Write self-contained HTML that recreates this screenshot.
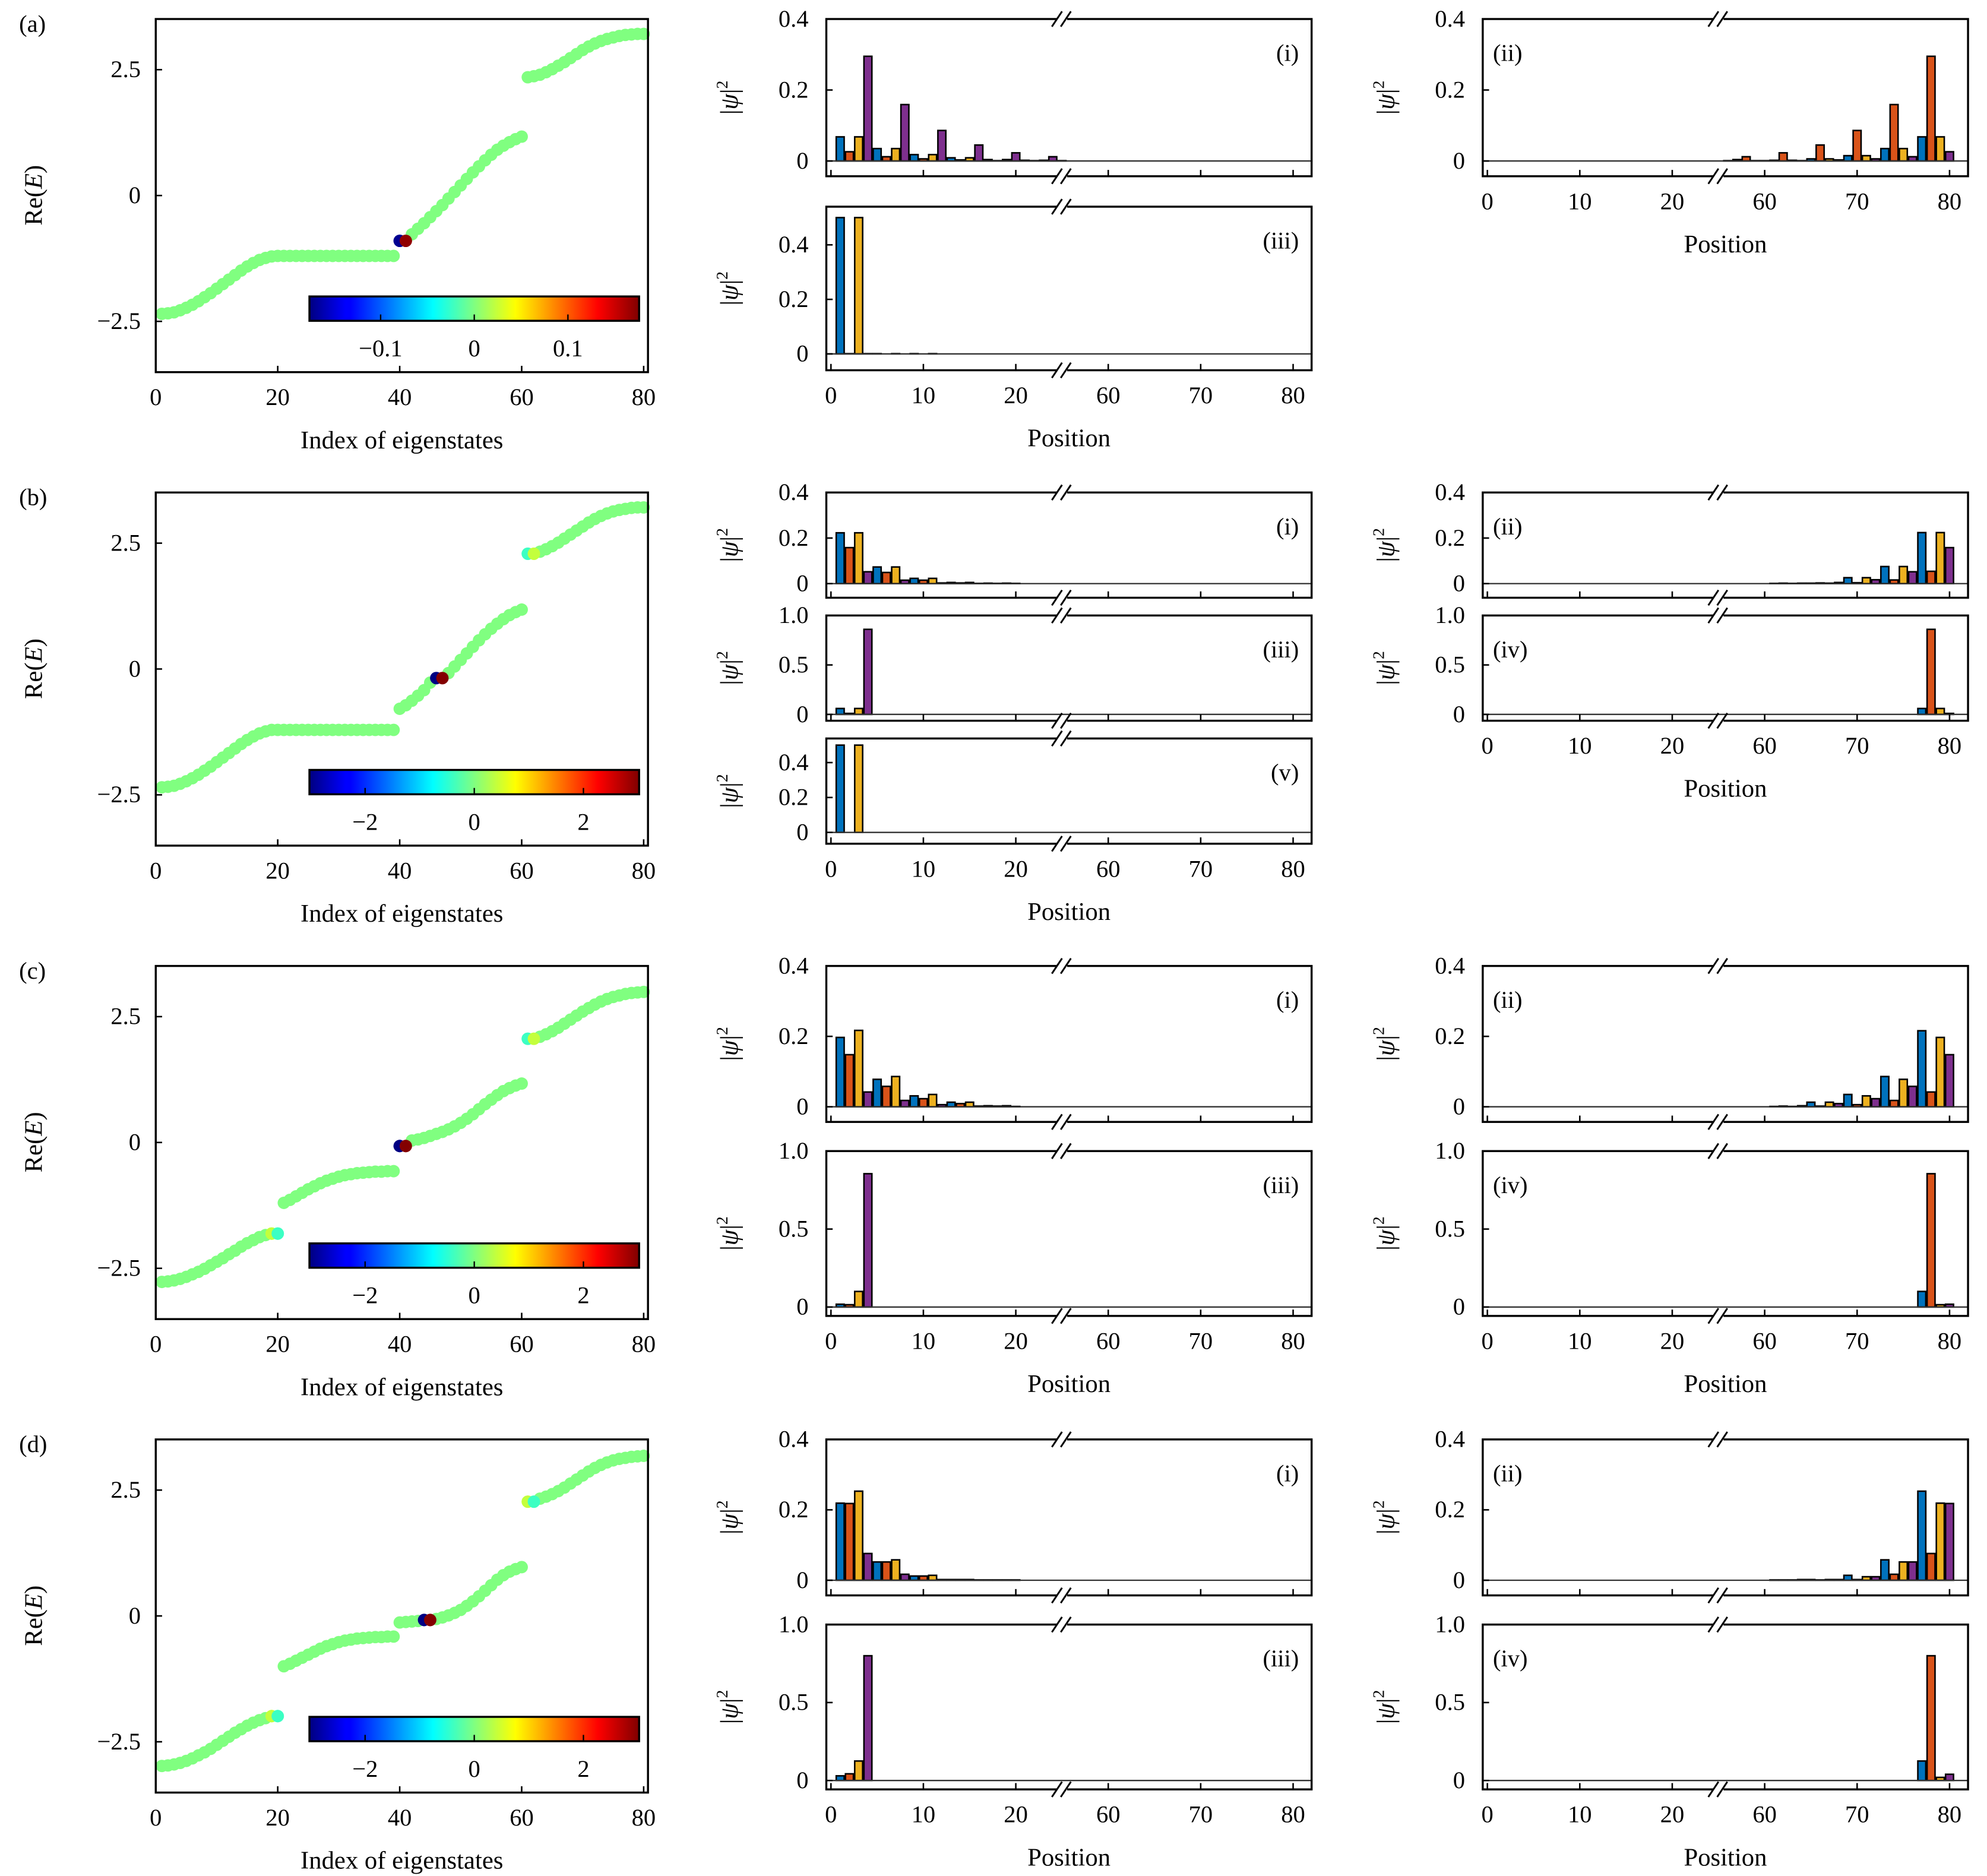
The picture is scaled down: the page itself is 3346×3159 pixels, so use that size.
<!DOCTYPE html>
<html><head><meta charset="utf-8"><style>
html,body{margin:0;padding:0;background:#fff;}
svg{display:block;}
text{font-family:"Liberation Serif",serif;fill:#000;}
</style></head><body>
<svg id="fig" xmlns="http://www.w3.org/2000/svg" width="3346" height="3159" viewBox="0 0 1567 1479.5">
<defs>
<linearGradient id="jet" x1="0" x2="1" y1="0" y2="0">
<stop offset="0" stop-color="#000080"/><stop offset="0.11" stop-color="#0000ff"/><stop offset="0.125" stop-color="#0000ff"/><stop offset="0.375" stop-color="#00ffff"/><stop offset="0.5" stop-color="#80ff80"/><stop offset="0.625" stop-color="#ffff00"/><stop offset="0.875" stop-color="#ff0000"/><stop offset="1" stop-color="#800000"/>
</linearGradient>
</defs>
</svg>
<script>
// ---------- DATA ----------
const eigA=[-2.35,-2.34,-2.32,-2.28,-2.23,-2.17,-2.10,-2.02,-1.94,-1.85,-1.76,-1.67,-1.58,-1.49,-1.41,-1.34,-1.28,-1.24,-1.21,
-1.2,-1.2,-1.2,-1.2,-1.2,-1.2,-1.2,-1.2,-1.2,-1.2,-1.2,-1.2,-1.2,-1.2,-1.2,-1.2,-1.2,-1.2,-1.2,-1.2,
-0.9,-0.9,
-0.77,-0.66,-0.55,-0.43,-0.31,-0.19,-0.06,0.07,0.20,0.33,0.46,0.58,0.70,0.81,0.91,0.99,1.06,1.12,1.17,
2.35,2.37,2.40,2.45,2.51,2.58,2.65,2.73,2.81,2.89,2.96,3.02,3.07,3.11,3.14,3.17,3.19,3.20,3.21,3.21];
const eigB=[-2.35,-2.34,-2.32,-2.28,-2.23,-2.17,-2.10,-2.02,-1.94,-1.85,-1.76,-1.67,-1.58,-1.49,-1.41,-1.34,-1.28,-1.24,-1.21,
-1.21,-1.21,-1.21,-1.21,-1.21,-1.21,-1.21,-1.21,-1.21,-1.21,-1.21,-1.21,-1.21,-1.21,-1.21,-1.21,-1.21,-1.21,-1.21,-1.21,
-0.79,-0.72,-0.63,-0.53,-0.42,-0.27,-0.18,-0.18,-0.08,0.05,0.18,0.31,0.44,0.57,0.69,0.80,0.90,0.99,1.07,1.13,1.18,
2.29,2.29,2.33,2.38,2.44,2.51,2.59,2.67,2.75,2.83,2.91,2.98,3.04,3.09,3.13,3.16,3.18,3.20,3.21,3.21];
const eigC=[-2.77,-2.76,-2.74,-2.71,-2.67,-2.62,-2.57,-2.51,-2.44,-2.37,-2.30,-2.22,-2.15,-2.07,-2.00,-1.94,-1.88,-1.84,-1.81,-1.81,
-1.20,-1.14,-1.07,-1.00,-0.93,-0.87,-0.81,-0.76,-0.72,-0.68,-0.65,-0.63,-0.61,-0.60,-0.59,-0.58,-0.58,-0.57,-0.57,
-0.07,-0.07,
0.04,0.06,0.09,0.13,0.17,0.21,0.26,0.32,0.39,0.47,0.56,0.66,0.76,0.85,0.94,1.02,1.08,1.13,1.17,
2.06,2.06,2.10,2.15,2.21,2.28,2.36,2.44,2.52,2.60,2.67,2.74,2.80,2.85,2.89,2.92,2.95,2.97,2.98,2.99];
const eigD=[-2.98,-2.97,-2.95,-2.92,-2.88,-2.83,-2.77,-2.71,-2.64,-2.56,-2.48,-2.40,-2.32,-2.25,-2.18,-2.12,-2.07,-2.03,-1.99,-1.99,
-1.00,-0.95,-0.89,-0.83,-0.77,-0.71,-0.65,-0.60,-0.56,-0.52,-0.49,-0.47,-0.45,-0.44,-0.43,-0.42,-0.42,-0.41,-0.41,
-0.13,-0.12,-0.11,-0.10,-0.08,-0.08,-0.06,-0.03,0.01,0.06,0.12,0.20,0.29,0.39,0.50,0.61,0.72,0.81,0.88,0.93,0.97,
2.27,2.27,2.33,2.37,2.42,2.48,2.55,2.63,2.71,2.79,2.87,2.94,3.00,3.05,3.09,3.12,3.14,3.16,3.17,3.18];
const imagA={40:-0.17,41:0.17};
const imagB={46:-3,47:3,61:-0.4,62:0.4};
const imagC={19:0.4,20:-0.4,40:-3,41:3,61:-0.4,62:0.4};
const imagD={19:0.4,20:-0.4,44:-3,45:3,61:0.4,62:-0.4};
const cbTicksA=[-0.1,0,0.1], cbLabelsA=["\u22120.1","0","0.1"], cbRangeA=0.176;
const cbTicksB=[-2,0,2], cbLabelsB=["\u22122","0","2"], cbRangeB=3.02;
const eigTicks=[-2.5,0,2.5], eigTickLabels=["\u22122.5","0","2.5"];
const idxTicks=[0,20,40,60,80];
const posTicks=[0,10,20,60,70,80];
const aI_start=1, aI=[0.068,0.026,0.068,0.295,0.035,0.012,0.035,0.159,0.018,0.006,0.018,0.086,0.009,0.003,0.009,0.045,0.004,0.001,0.004,0.023,0.002,0.001,0.002,0.012,0.001];
const aII_start=56, aII=[0.001,0.004,0.012,0.001,0.001,0.002,0.023,0.002,0.001,0.006,0.045,0.006,0.003,0.015,0.086,0.015,0.006,0.035,0.159,0.035,0.012,0.068,0.295,0.068,0.026];
const aIII_start=1, aIII=[0.5,0.001,0.5,0.001,0.001,0,0.001,0,0.001,0,0.001,0];
const bI_start=1, bI=[0.223,0.158,0.223,0.052,0.073,0.049,0.073,0.015,0.023,0.015,0.023,0.003,0.005,0.003,0.005,0.001,0.002,0.001,0.002,0.001];
const bII_start=61, bII=[0.001,0.002,0.001,0.002,0.002,0.003,0.002,0.005,0.026,0.004,0.026,0.017,0.075,0.016,0.075,0.052,0.224,0.054,0.224,0.158];
const bIII_start=1, bIII=[0.06,0.01,0.06,0.86];
const bIV_start=77, bIV=[0.06,0.86,0.06,0.01];
const bV_start=1, bV=[0.5,0,0.5];
const cI_start=1, cI=[0.197,0.148,0.217,0.042,0.078,0.058,0.086,0.018,0.031,0.023,0.035,0.006,0.013,0.009,0.013,0.002,0.003,0.002,0.003,0.001];
const cII_start=61, cII=[0.001,0.002,0.001,0.003,0.013,0.002,0.013,0.009,0.035,0.006,0.031,0.023,0.086,0.018,0.078,0.058,0.216,0.042,0.197,0.148];
const cIII_start=1, cIII=[0.018,0.015,0.1,0.855];
const cIV_start=77, cIV=[0.1,0.855,0.015,0.018];
const dI_start=1, dI=[0.219,0.218,0.253,0.076,0.052,0.052,0.058,0.017,0.012,0.012,0.014,0.002,0.002,0.002,0.002,0.001,0.001,0.001,0.001,0.001];
const dII_start=61, dII=[0.001,0.001,0.001,0.002,0.002,0.001,0.002,0.002,0.014,0.002,0.01,0.01,0.058,0.017,0.052,0.052,0.253,0.076,0.219,0.218];
const dIII_start=1, dIII=[0.03,0.043,0.125,0.8];
const dIV_start=77, dIV=[0.125,0.8,0.02,0.04];
const barColors=["#0072BD","#D95319","#EDB120","#7E2F8E"];

// ---------- DRAWING ----------
const NS="http://www.w3.org/2000/svg";
const svg=document.getElementById('fig');
function mk(tag,attrs,parent){const e=document.createElementNS(NS,tag);for(const k in attrs)e.setAttribute(k,attrs[k]);(parent||svg).appendChild(e);return e;}
function txt(x,y,s,anchor,size,parent,extra){const t=mk('text',Object.assign({x:x,y:y,'text-anchor':anchor||'middle','font-size':size||19},extra||{}),parent);t.textContent=s;return t;}
function clip(v){return Math.max(0,Math.min(1,v));}
function jet(t){const r=clip(1.5-Math.abs(4*t-3)),g=clip(1.5-Math.abs(4*t-2)),b=clip(1.5-Math.abs(4*t-1));return `rgb(${Math.round(r*255)},${Math.round(g*255)},${Math.round(b*255)})`;}

const rowTops=[15,388.4,761.8,1135.2];
const rowLetters=["(a)","(b)","(c)","(d)"];
const eigSets=[eigA,eigB,eigC,eigD];
const imagSets=[imagA,imagB,imagC,imagD];
const cbTickSets=[cbTicksA,cbTicksB,cbTicksB,cbTicksB];
const cbLabelSets=[cbLabelsA,cbLabelsB,cbLabelsB,cbLabelsB];
const cbRanges=[cbRangeA,cbRangeB,cbRangeB,cbRangeB];

function eigPanel(r){
  const T=rowTops[r];
  const g=mk('g',{});
  
  
  const L=122.8,R=511,B=T+278.5,sx=4.81,y0=T+139.2,sy=39.7;
  const X=i=>L+sx*i, Y=v=>y0-sy*v;
  const lt=txt(15,T+10,rowLetters[r],'start',19,g);
  
  
  const E=eigSets[r], I=imagSets[r], rng=cbRanges[r];
  for(let k=0;k<E.length;k++){
    const idx=k+1; const im=I[idx]!==undefined?I[idx]:0;
    const c=mk('circle',{cx:X(idx),cy:Y(E[k]),r:4.9,fill:jet(0.5+im/(2*rng))},g);
    
    
  }
  Object.keys(I).map(Number).sort((a,b)=>a-b).forEach(idx=>{
    const c=mk('circle',{cx:X(idx),cy:Y(E[idx-1]),r:4.9,fill:jet(0.5+I[idx]/(2*rng))},g);
    
    
  });
  const box=mk('rect',{x:L,y:T,width:R-L,height:B-T,fill:'none',stroke:'#000','stroke-width':1.6},g);
  
  
  idxTicks.forEach(v=>{
    mk('line',{x1:X(v),x2:X(v),y1:B,y2:B-5,stroke:'#000','stroke-width':1.2},g);
    const t=txt(X(v),B+26,String(v),'middle',19,g);
    
    
  });
  eigTicks.forEach((v,i)=>{
    mk('line',{x1:L,x2:L+5,y1:Y(v),y2:Y(v),stroke:'#000','stroke-width':1.2},g);
    const t=txt(111,Y(v)+6,eigTickLabels[i],'end',19,g);
    
    
  });
  const xt=txt((L+R)/2,B+60,'Index of eigenstates','middle',20,g);
  
  
  const yt=mk('text',{x:0,y:0,'text-anchor':'middle','font-size':20,transform:`translate(33,${T+139}) rotate(-90)`},g);
  yt.innerHTML='Re(<tspan font-style="italic">E</tspan>)';
  
  
  const cx0=244,cx1=504,cT=T+218.8,cB=T+238,cc=(cx0+cx1)/2,cs=(cx1-cx0)/(2*rng);
  const cb=mk('rect',{x:cx0,y:cT,width:cx1-cx0,height:cB-cT,fill:'url(#jet)',stroke:'#000','stroke-width':1.6},g);
  
  
  cbTickSets[r].forEach((v,i)=>{
    mk('line',{x1:cc+cs*v,x2:cc+cs*v,y1:cB,y2:cB-5,stroke:'#000','stroke-width':1.1},g);
    const t=txt(cc+cs*v,cB+28,cbLabelSets[r][i],'middle',19,g);
    
    
  });
}
for(let r=0;r<4;r++) eigPanel(r);

function barPanel(col,top,bottom,ymin,ymax,ticks,tickLabels,start,vals,roman,romanLeft,showX,name){
  const g=mk('g',{});
  
  
  const x0=col===0?655.3:1173.0, s=7.29;
  const X=p=>x0+s*(p>=55?p-30:p);
  const L=x0-0.5*s, R=X(82);
  const Y=v=>bottom-(v-ymin)/(ymax-ymin)*(bottom-top);
  vals.forEach((v,k)=>{
    const p=start+k; if(v<=0) return;
    const b=mk('rect',{x:X(p)-0.43*s,y:Y(v),width:0.86*s,height:Y(0)-Y(v),fill:barColors[(p-1)%4],stroke:'#000','stroke-width':1.2},g);
    
    
  });
  mk('line',{x1:L,x2:R,y1:Y(0),y2:Y(0),stroke:'#333','stroke-width':1.1},g);
  const bx=mk('rect',{x:L,y:top,width:R-L,height:bottom-top,fill:'none',stroke:'#000','stroke-width':1.6},g);
  
  
  const xb=X(25);
  [top,bottom].forEach(yy=>{
    mk('rect',{x:xb-4,y:yy-2,width:8,height:4,fill:'#fff'},g);
    [-4,3].forEach(d=>{
      const l=mk('line',{x1:xb+d-4,y1:yy+6,x2:xb+d+4,y2:yy-6,stroke:'#000','stroke-width':1.4},g);
      
      
    });
  });
  posTicks.forEach(v=>{
    mk('line',{x1:X(v),x2:X(v),y1:bottom,y2:bottom-5,stroke:'#000','stroke-width':1.2},g);
    if(showX){
      const t=txt(X(v),bottom+26,String(v),'middle',19,g);
      
      
    }
  });
  ticks.forEach((v,i)=>{
    mk('line',{x1:L,x2:L+5,y1:Y(v),y2:Y(v),stroke:'#000','stroke-width':1.2},g);
    const t=txt(L-14,Y(v)+6,tickLabels[i],'end',19,g);
    
    
  });
  if(showX){
    const t=txt((L+R)/2,bottom+60,'Position','middle',20,g);
    
    
  }
  const yt=mk('text',{x:0,y:0,'text-anchor':'middle','font-size':20,transform:`translate(${L-70},${(top+bottom)/2}) rotate(-90)`},g);
  yt.innerHTML='|<tspan font-style="italic">\u03c8</tspan>|<tspan font-size="13" dy="-8">2</tspan>';
  
  
  const rl=txt(romanLeft?L+8:R-10,top+33,roman,romanLeft?'start':'end',19,g);
  
  
}
const t04=[0,0.2,0.4], l04=["0","0.2","0.4"], t10=[0,0.5,1.0], l10=["0","0.5","1.0"];
let T=rowTops[0];
barPanel(0,T,T+124,-0.043,0.4,t04,l04,aI_start,aI,'(i)',false,false,'bar-panel-a-i');
barPanel(0,T+148,T+277,-0.06,0.54,t04,l04,aIII_start,aIII,'(iii)',false,true,'bar-panel-a-iii');
barPanel(1,T,T+124,-0.043,0.4,t04,l04,aII_start,aII,'(ii)',true,true,'bar-panel-a-ii');
T=rowTops[1];
barPanel(0,T,T+83,-0.062,0.4,t04,l04,bI_start,bI,'(i)',false,false,'bar-panel-b-i');
barPanel(0,T+97,T+180,-0.064,1.0,t10,l10,bIII_start,bIII,'(iii)',false,false,'bar-panel-b-iii');
barPanel(0,T+194,T+277,-0.065,0.538,t04,l04,bV_start,bV,'(v)',false,true,'bar-panel-b-v');
barPanel(1,T,T+83,-0.062,0.4,t04,l04,bII_start,bII,'(ii)',true,false,'bar-panel-b-ii');
barPanel(1,T+97,T+180,-0.064,1.0,t10,l10,bIV_start,bIV,'(iv)',true,true,'bar-panel-b-iv');
T=rowTops[2];
barPanel(0,T,T+123,-0.043,0.4,t04,l04,cI_start,cI,'(i)',false,false,'bar-panel-c-i');
barPanel(0,T+146,T+276,-0.057,1.0,t10,l10,cIII_start,cIII,'(iii)',false,true,'bar-panel-c-iii');
barPanel(1,T,T+123,-0.043,0.4,t04,l04,cII_start,cII,'(ii)',true,false,'bar-panel-c-ii');
barPanel(1,T+146,T+276,-0.057,1.0,t10,l10,cIV_start,cIV,'(iv)',true,true,'bar-panel-c-iv');
T=rowTops[3];
barPanel(0,T,T+123,-0.043,0.4,t04,l04,dI_start,dI,'(i)',false,false,'bar-panel-d-i');
barPanel(0,T+146,T+276,-0.057,1.0,t10,l10,dIII_start,dIII,'(iii)',false,true,'bar-panel-d-iii');
barPanel(1,T,T+123,-0.043,0.4,t04,l04,dII_start,dII,'(ii)',true,false,'bar-panel-d-ii');
barPanel(1,T+146,T+276,-0.057,1.0,t10,l10,dIV_start,dIV,'(iv)',true,true,'bar-panel-d-iv');
</script>
</body></html>
